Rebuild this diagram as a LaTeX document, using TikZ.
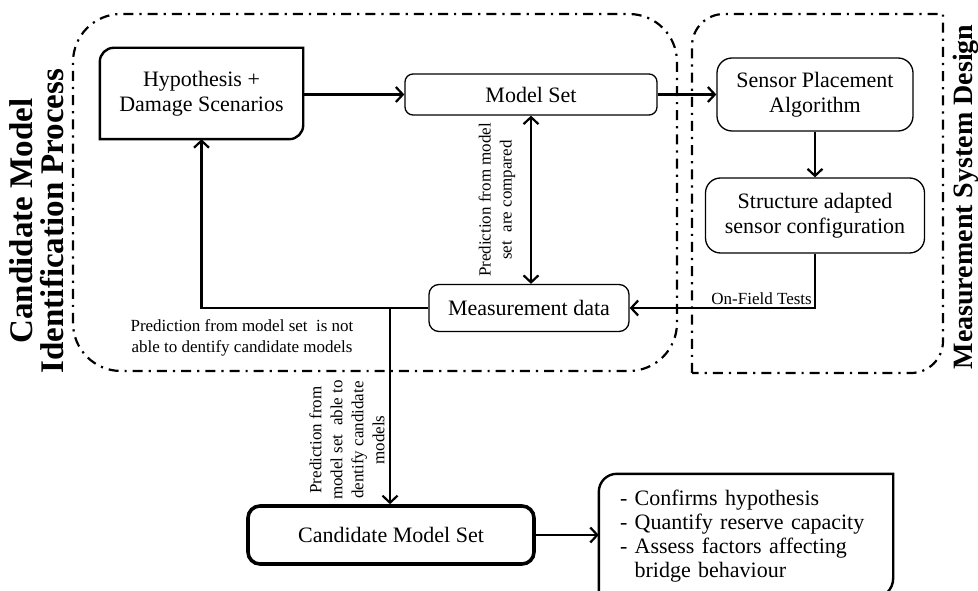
\documentclass[tikz,border=0pt]{standalone}
\usepackage{fontspec}
\setmainfont{Liberation Serif}
\usetikzlibrary{arrows.meta,calc}
\begin{document}
\begin{tikzpicture}[x=1pt,y=1pt,
  >={Straight Barb[length=7pt,width=15pt]},
  region/.style={line width=2.2pt, dash pattern=on 10pt off 6pt on 2.2pt off 6pt},
  tbox/.style={draw, line width=1.3pt, rounded corners=8pt, inner sep=0pt, align=center,
    font=\fontsize{22}{25}\selectfont},
  conn/.style={line width=2.2pt},
  lbl/.style={font=\fontsize{17}{21}\selectfont, align=center, inner sep=0pt},
  ttl/.style={rotate=90, align=center, inner sep=0pt}
]
\useasboundingbox (0,0) rectangle (978,590);

% regions
\draw[region, rounded corners=48pt] (73,219) rectangle (677,576);
\draw[region] (692,217) -- (692,544) arc[start angle=180,end angle=90,radius=32pt]
  -- (943,576) -- (943,249) arc[start angle=0,end angle=-90,radius=32pt] -- cycle;

% titles
\node[ttl, font=\fontsize{33}{31}\selectfont\bfseries] (t1) at (37,369)
  {Candidate Model\\Identification Process};
\node[ttl, font=\fontsize{28}{30}\selectfont\bfseries] (t2) at (966,393)
  {Measurement System Design};

% nodes
\node[align=center, inner sep=0pt, minimum width=203pt, minimum height=91pt,
  font=\fontsize{22}{25}\selectfont] (hyp) at (201.5,496.5) {Hypothesis +\\Damage Scenarios};
\draw[line width=2.4pt] (hyp.south west) -- ([yshift=-14pt]hyp.north west)
  arc[start angle=180,end angle=90,radius=14pt] -- (hyp.north east)
  -- ([yshift=14pt]hyp.south east) arc[start angle=0,end angle=-90,radius=14pt] -- cycle;

\node[tbox, minimum width=252pt, minimum height=41pt] (ms) at (531,495.5) {Model Set};
\node[tbox, rounded corners=15pt, minimum width=196pt, minimum height=73pt] (spa) at (815,495.5)
  {Sensor Placement\\Algorithm};
\node[tbox, rounded corners=15pt, minimum width=219pt, minimum height=75pt] (sac) at (815,374.5)
  {Structure adapted\\sensor configuration};
\node[tbox, rounded corners=10pt, minimum width=200pt, minimum height=47pt] (md) at (529,282)
  {Measurement data};
\node[tbox, line width=3.6pt, rounded corners=12pt, minimum width=286pt, minimum height=58pt] (cms)
  at (391,55) {Candidate Model Set};

\node[align=left, inner xsep=21pt, inner ysep=0pt, text width=252pt, minimum height=124pt,
  font=\fontsize{22}{24}\selectfont] (bul) at (746,54)
  {- Confirms hypothesis\\- Quantify reserve capacity\\- Assess factors affecting\\\hphantom{-}\ bridge behaviour};
\draw[line width=2.4pt] (bul.south west) -- ([yshift=-18pt]bul.north west)
  arc[start angle=180,end angle=90,radius=18pt] -- (bul.north east)
  -- ([yshift=20pt]bul.south east) arc[start angle=0,end angle=-90,radius=20pt] -- cycle;

% connectors
\draw[conn,->] (hyp.east |- ms.west) -- (ms.west);
\draw[conn,->] (ms.east) -- (spa.west);
\draw[conn,<->] (ms.south) -- (ms.south |- md.north);
\draw[conn,->] (spa.south) -- (sac.north);
\draw[conn,->] (sac.south) |- (md.east);
\draw[conn,->] (md.west) -| (hyp.south);
\coordinate (j) at (390,282);
\draw[conn,->] (j) -- (j |- cms.north);
\draw[conn,->] (cms.east) -- (cms.east -| bul.west);

% labels
\node[lbl, anchor=south east] (lof) at ($(sac.south |- md.east)+(-3,3)$) {On-Field Tests};
\node[lbl] (l1) at (242,252) {Prediction from model set\ \ is not\\able to dentify candidate models};
\node[lbl, rotate=90] (l2) at (497,390) {Prediction from model\\set\ \ are compared};
\node[lbl, rotate=90] (l3) at (347,150) {Prediction from\\model set\ \ able to\\dentify candidate\\models};
\end{tikzpicture}
\end{document}
